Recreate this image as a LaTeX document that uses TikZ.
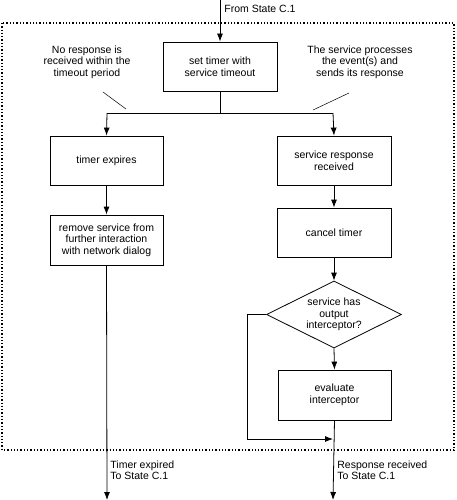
\documentclass[tikz,border=0pt]{standalone}
\usepackage{fontspec}
\setmainfont{Liberation Sans}
\usetikzlibrary{arrows.meta,shapes.geometric}
\begin{document}
\begin{tikzpicture}[x=1pt,y=-1pt,
  line width=0.8pt,
  font=\fontsize{10.5}{11.7}\selectfont,
  arr/.style={-{Latex[length=8pt,width=6pt]}},
  box/.style={draw, rectangle, align=center, inner sep=0pt},
  lbl/.style={align=center, inner sep=0pt},
  note/.style={align=left, inner sep=0pt, anchor=north west}]
\useasboundingbox (0,0) rectangle (456,500);
% dotted frame
\draw[line width=1.3pt, dotted] (2,23) rectangle (454,450);
% nodes
\node[box, minimum width=114pt, minimum height=49pt] (set) at (220,66.5) {set timer with\\service timeout};
\node[box, minimum width=113pt, minimum height=49pt] (exp) at (106.5,160.5) {timer expires};
\node[box, minimum width=113pt, minimum height=50pt] (rem) at (106.5,240) {remove service from\\further interaction\\with network dialog};
\node[box, minimum width=114pt, minimum height=49pt] (rec) at (334,160.5) {service response\\received};
\node[box, minimum width=114pt, minimum height=49pt] (can) at (334,232.5) {cancel timer};
\node[draw, diamond, aspect=2, inner sep=0pt, minimum width=135pt, minimum height=67pt, align=center] (dia) at (334,314.5) {service has\\output\\interceptor?};
\node[box, minimum width=113pt, minimum height=50pt] (eva) at (334.5,395) {evaluate\\interceptor};
% coordinates
\coordinate (top) at (220,0);
\coordinate (split) at (220,113);
\coordinate (sl) at (107,113);
\coordinate (sr) at (333,113);
\coordinate (endl) at (107,500);
\coordinate (endr) at (333,500);
\coordinate (loopa) at (247,314.5);
\coordinate (loopb) at (247,439);
\coordinate (join) at (333,439);
% connectors
\draw[arr] (top) -- (set.north);
\draw (set.south) -- (split);
\draw (sl) -- (sr);
\draw[arr] (sl) -- (exp.north);
\draw[arr] (sr) -- (rec.north);
\draw[arr] (exp.south) -- (rem.north);
\draw[arr] (rem.south) -- (endl);
\draw[arr] (rec.south) -- (can.north);
\draw[arr] (can.south) -- (dia.north);
\draw[arr] (dia.south) -- (eva.north);
\draw[arr] (eva.south) -- (endr);
\draw[arr] (dia.west) -- (loopa) -- (loopb) -- (join);
% labels
\node[note] (from) at (224,5) {From State C.1};
\node[lbl] (n1) at (87,62) {No response is\\received within the\\timeout period};
\node[lbl] (n2) at (360,62) {The service processes\\the event(s) and\\sends its response};
\coordinate (n1a) at (103,92);
\coordinate (n1b) at (126,109);
\coordinate (n2a) at (349,93);
\coordinate (n2b) at (313,110);
\draw[line width=0.5pt] (n1a) -- (n1b);
\draw[line width=0.5pt] (n2a) -- (n2b);
\node[note] (te) at (110,460) {Timer expired\\To State C.1};
\node[note] (rr) at (337,460) {Response received\\To State C.1};
\end{tikzpicture}
\end{document}
